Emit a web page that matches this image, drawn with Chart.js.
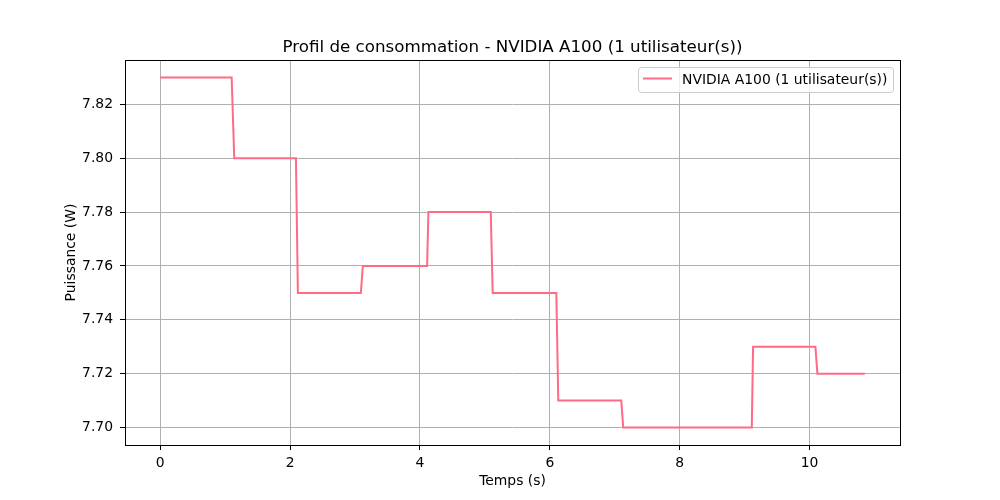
<!DOCTYPE html>
<html>
<head>
<meta charset="utf-8">
<script src="https://cdn.jsdelivr.net/npm/chart.js@4"></script>
<style>
  html, body { margin: 0; padding: 0; background: #fff; }
  #wrap { width: 1000px; height: 500px; }
</style>
</head>
<body>
<div id="wrap"><canvas id="power-chart" width="1000" height="500"></canvas></div>
<script>
// values (polyline vertices)
const times = [0, 1.10, 1.14, 2.09, 2.12, 3.09, 3.12, 4.11, 4.13, 5.09, 5.12, 6.10, 6.13, 7.10, 7.13, 9.11, 9.13, 10.09, 10.12, 10.85];
const watts = [7.83, 7.83, 7.80, 7.80, 7.75, 7.75, 7.76, 7.76, 7.78, 7.78, 7.75, 7.75, 7.71, 7.71, 7.70, 7.70, 7.73, 7.73, 7.72, 7.72];
const xTicks = [0, 2, 4, 6, 8, 10];
const yTicks = [7.70, 7.72, 7.74, 7.76, 7.78, 7.80, 7.82];

const seriesLabel = 'NVIDIA A100 (1 utilisateur(s))';
const titleText = 'Profil de consommation - NVIDIA A100 (1 utilisateur(s))';
const lineColor = '#ff6b86';
const FONT = '"DejaVu Sans", sans-serif';

// title, axis labels, frame and legend drawn like matplotlib
const decorations = {
  id: 'decorations',
  afterDraw(chart) {
    const { ctx, chartArea: a } = chart;
    ctx.save();
    // frame
    ctx.strokeStyle = '#000';
    ctx.lineWidth = 1;
    ctx.strokeRect(Math.round(a.left) + 0.5, Math.round(a.top) + 0.5,
      Math.round(a.right - a.left), Math.round(a.bottom - a.top));

    ctx.fillStyle = '#000';
    ctx.textAlign = 'center';
    ctx.textBaseline = 'alphabetic';
    ctx.font = '16.7px ' + FONT;
    ctx.fillText(titleText, (a.left + a.right) / 2, 52);

    ctx.font = '13.9px ' + FONT;
    ctx.fillText('Temps (s)', (a.left + a.right) / 2, 485);

    ctx.save();
    ctx.translate(71, (a.top + a.bottom) / 2);
    ctx.rotate(-Math.PI / 2);
    ctx.textBaseline = 'middle';
    ctx.fillText('Puissance (W)', 0, 0);
    ctx.restore();

    // legend box
    const bx = 638.5, by = 67.5, bw = 255, bh = 25, r = 3;
    ctx.beginPath();
    ctx.moveTo(bx + r, by);
    ctx.arcTo(bx + bw, by, bx + bw, by + bh, r);
    ctx.arcTo(bx + bw, by + bh, bx, by + bh, r);
    ctx.arcTo(bx, by + bh, bx, by, r);
    ctx.arcTo(bx, by, bx + bw, by, r);
    ctx.closePath();
    ctx.fillStyle = 'rgba(255,255,255,0.8)';
    ctx.fill();
    ctx.strokeStyle = '#cccccc';
    ctx.stroke();

    ctx.beginPath();
    ctx.moveTo(643, 78.5);
    ctx.lineTo(672, 78.5);
    ctx.strokeStyle = lineColor;
    ctx.lineWidth = 2;
    ctx.stroke();

    ctx.fillStyle = '#000';
    ctx.textAlign = 'left';
    ctx.textBaseline = 'alphabetic';
    ctx.font = '13.9px ' + FONT;
    ctx.fillText(seriesLabel, 682, 84);
    ctx.restore();
  }
};

new Chart(document.getElementById('power-chart').getContext('2d'), {
  type: 'line',
  data: {
    datasets: [{
      label: seriesLabel,
      data: times.map((t, i) => ({ x: t, y: watts[i] })),
      borderColor: lineColor,
      borderWidth: 2,
      pointRadius: 0,
      tension: 0,
      fill: false
    }]
  },
  options: {
    responsive: false,
    animation: false,
    devicePixelRatio: 1,
    layout: { padding: { left: 0, right: 100, top: 60, bottom: 0 } },
    plugins: {
      legend: { display: false },
      title: { display: false },
      tooltip: { enabled: false }
    },
    scales: {
      x: {
        type: 'linear',
        min: -0.5425,
        max: 11.3925,
        afterBuildTicks: s => { s.ticks = xTicks.map(v => ({ value: v })); },
        afterFit: s => { s.height = 55; },
        grid: { color: '#b0b0b0', lineWidth: 1, tickColor: '#000', tickLength: 5 },
        border: { display: false },
        ticks: { color: '#000', font: { family: FONT, size: 13.9 }, padding: 5, maxRotation: 0 }
      },
      y: {
        type: 'linear',
        min: 7.6935,
        max: 7.8365,
        afterBuildTicks: s => { s.ticks = yTicks.map(v => ({ value: v })); },
        afterFit: s => { s.width = 125; },
        grid: { color: '#b0b0b0', lineWidth: 1, tickColor: '#000', tickLength: 5 },
        border: { display: false },
        ticks: {
          color: '#000',
          font: { family: FONT, size: 13.9 },
          padding: 7,
          callback: v => Number(v).toFixed(2)
        }
      }
    }
  },
  plugins: [decorations]
});
</script>
</body>
</html>
